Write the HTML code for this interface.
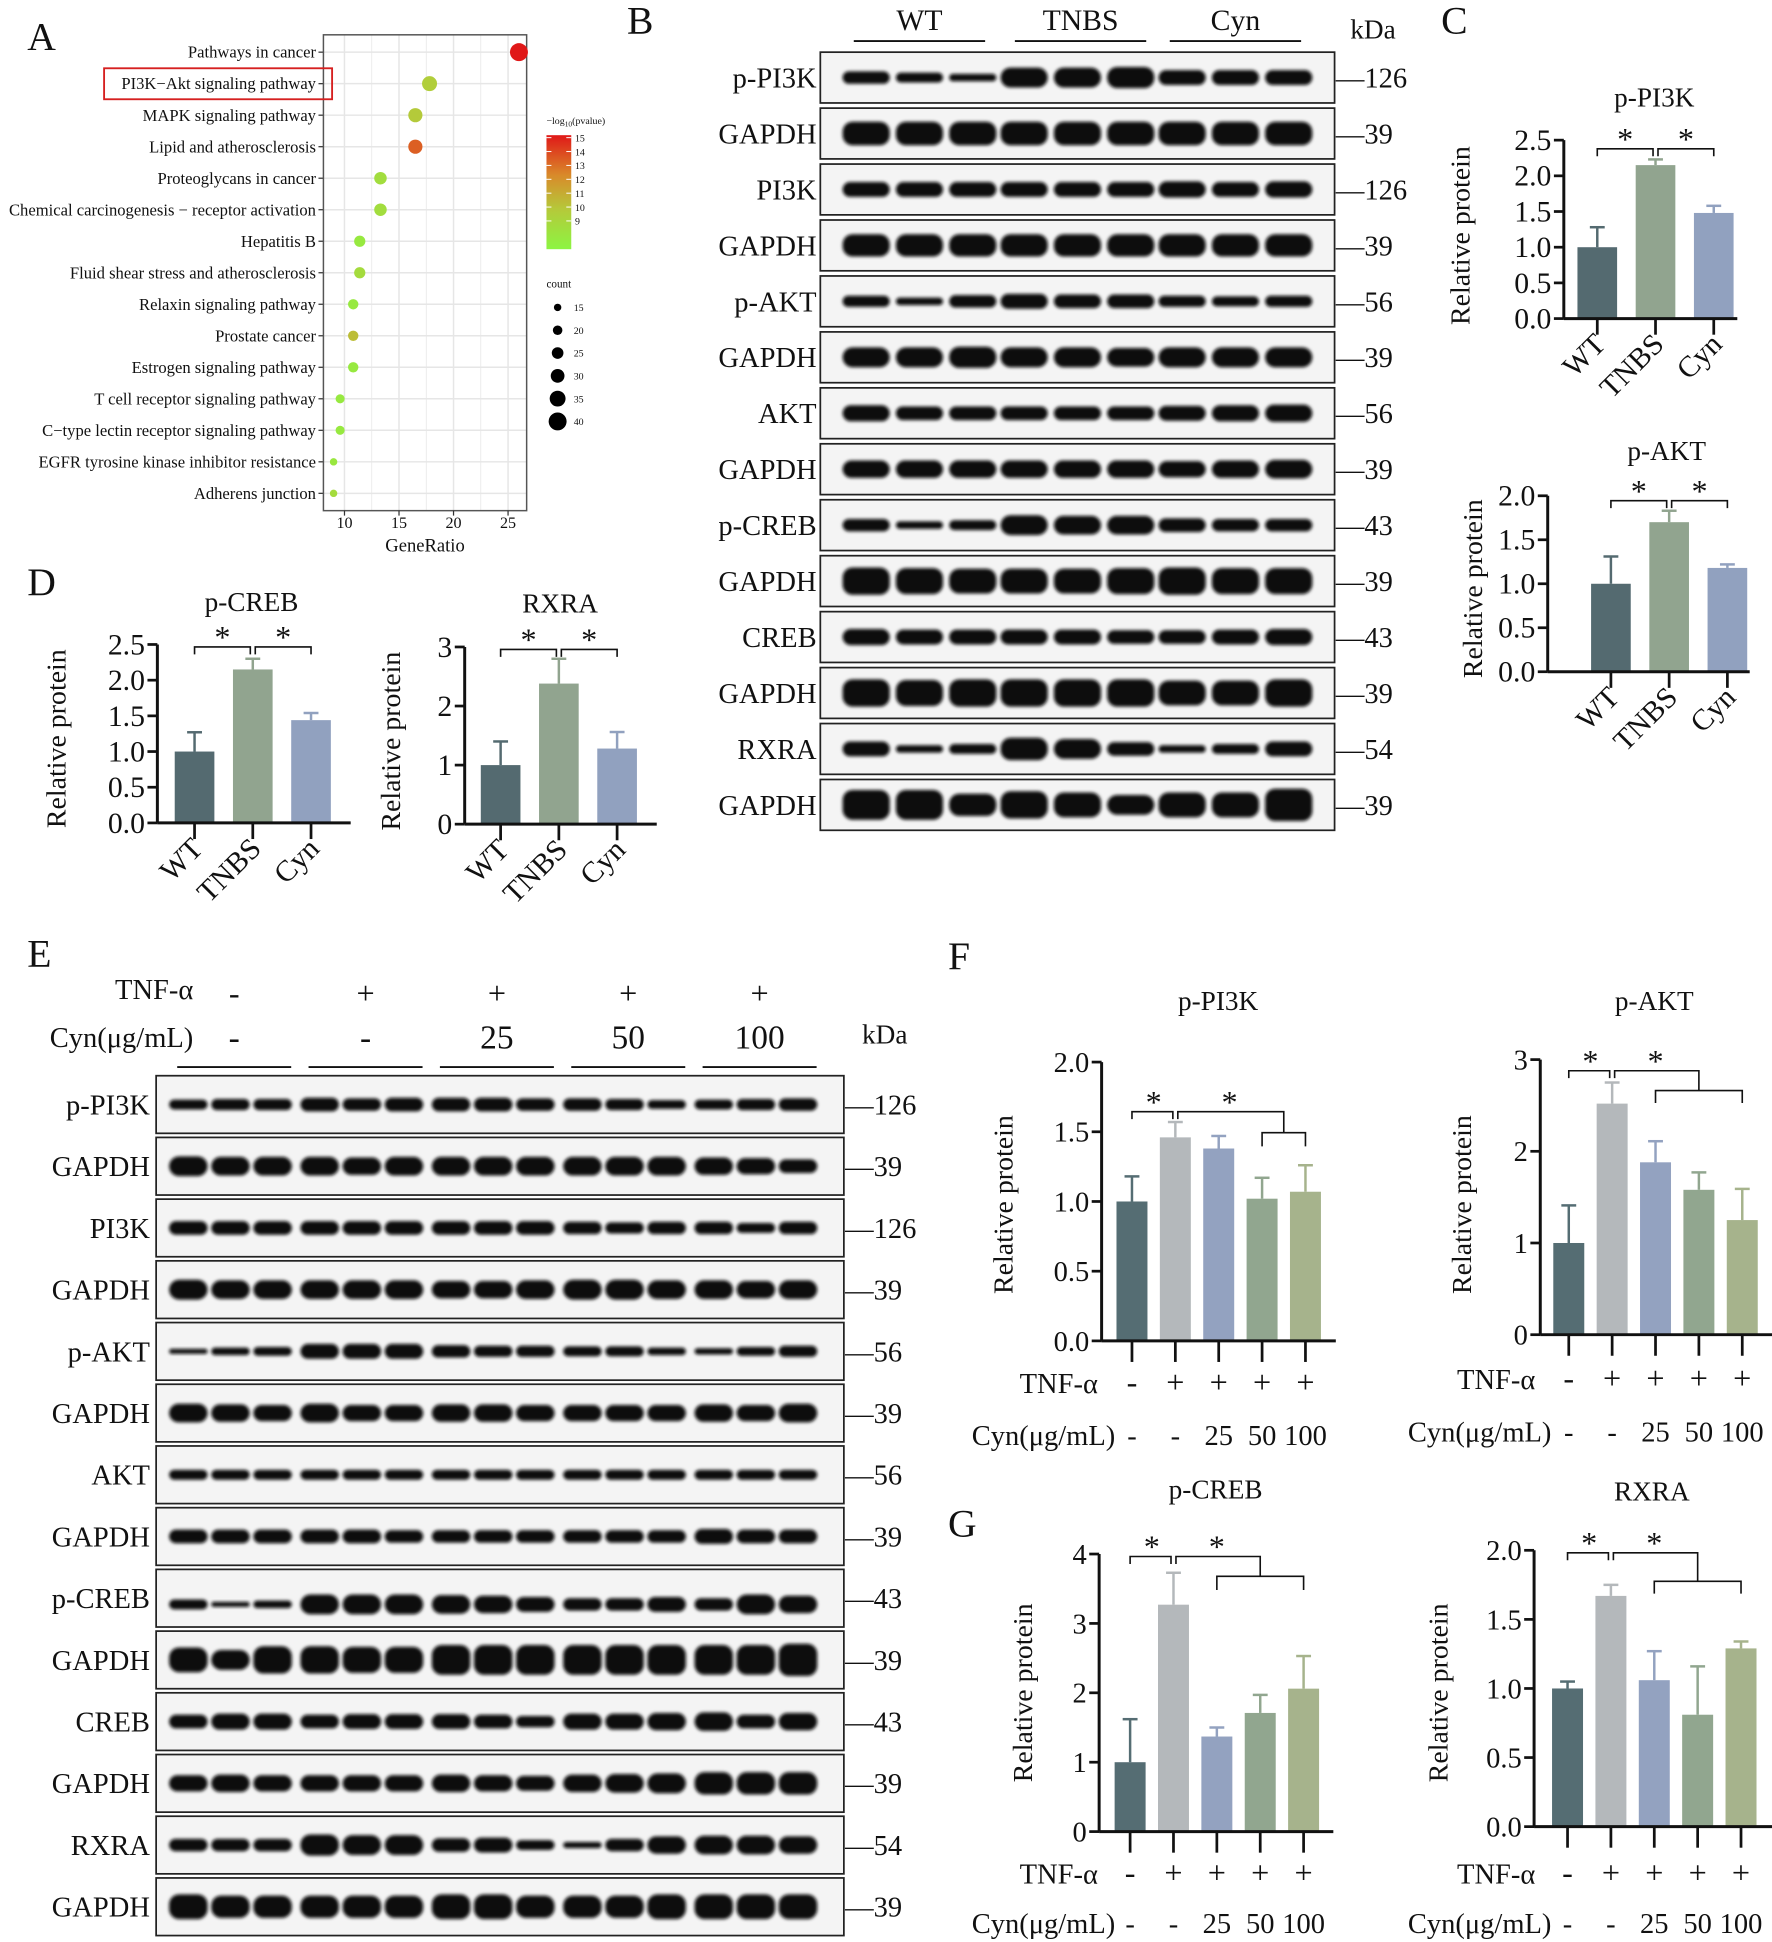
<!DOCTYPE html>
<html><head><meta charset="utf-8">
<style>
html,body{margin:0;padding:0;background:#fff;}
svg{display:block;font-family:"Liberation Serif","DejaVu Serif",serif;}
svg text{font-family:"Liberation Serif","DejaVu Serif",serif;}
</style></head>
<body>
<svg id="fig" xmlns="http://www.w3.org/2000/svg" width="1772" height="1942" viewBox="0 0 1430 1567">
<defs>
<linearGradient id="cbar" x1="0" y1="1" x2="0" y2="0">
<stop offset="0" stop-color="#8cf542"/><stop offset="0.35" stop-color="#b5c93a"/><stop offset="0.65" stop-color="#d98a2a"/><stop offset="1" stop-color="#e01818"/>
</linearGradient>
<filter id="blur" x="-20%" y="-50%" width="140%" height="200%"><feGaussianBlur stdDeviation="1.3"/></filter>
</defs>
</svg>
<script>
// ---------- Panel A data ----------
const aCategories = ["Pathways in cancer","PI3K\u2212Akt signaling pathway","MAPK signaling pathway","Lipid and atherosclerosis","Proteoglycans in cancer","Chemical carcinogenesis \u2212 receptor activation","Hepatitis B","Fluid shear stress and atherosclerosis","Relaxin signaling pathway","Prostate cancer","Estrogen signaling pathway","T cell receptor signaling pathway","C\u2212type lectin receptor signaling pathway","EGFR tyrosine kinase inhibitor resistance","Adherens junction"];
const aGeneRatio = [26,17.8,16.5,16.5,13.3,13.3,11.4,11.4,10.8,10.8,10.8,9.6,9.6,9,9];
const aLogP = [15,10.6,10.8,13.6,9.8,9.8,9.2,9.9,9.2,11.2,9.2,9.2,9.2,9.3,9.9];
const aCount = [40,33,31,31,27,27,24,24,22,22,22,19,19,15,15];
const aXTicks = [10,15,20,25];

// ---------- Bar chart data ----------
const grpWT = ["WT","TNBS","Cyn"];
const cPI3K = [1.0,2.15,1.48];   const cPI3Kerr = [0.28,0.08,0.10];
const cAKT = [1.0,1.70,1.18];    const cAKTerr = [0.31,0.13,0.04];
const dCREB = [1.0,2.15,1.44];   const dCREBerr = [0.27,0.15,0.10];
const dRXRA = [1.0,2.38,1.28];   const dRXRAerr = [0.40,0.42,0.28];
const tnfRow = ["-","+","+","+","+"];
const cynRow = ["-","-","25","50","100"];
const fPI3K = [1.0,1.46,1.38,1.02,1.07]; const fPI3Kerr = [0.18,0.11,0.09,0.15,0.19];
const fAKT = [1.0,2.52,1.88,1.58,1.25];  const fAKTerr = [0.41,0.23,0.23,0.19,0.34];
const gCREB = [1.0,3.27,1.37,1.71,2.06]; const gCREBerr = [0.62,0.46,0.13,0.26,0.47];
const gRXRA = [1.0,1.67,1.06,0.81,1.29]; const gRXRAerr = [0.05,0.08,0.21,0.35,0.05];

// ---------- Blot data (band thickness) ----------
const bRows = ["p-PI3K","GAPDH","PI3K","GAPDH","p-AKT","GAPDH","AKT","GAPDH","p-CREB","GAPDH","CREB","GAPDH","RXRA","GAPDH"];
const bKda = ["126","39","126","39","56","39","56","39","43","39","43","39","54","39"];
const bBands = [[10,8,6,16,16,17,12,12,12],[19,19,19,19,19,19,19,19,19],[12,12,12,12,12,12,13,12,13],[18,18,18,18,18,18,18,18,18],[9,6,10,12,11,11,9,8,9],[16,16,17,16,16,15,16,16,16],[13,11,11,11,11,11,12,13,14],[14,14,14,14,14,14,13,14,15],[10,6,8,16,15,15,11,10,10],[22,21,20,20,20,21,22,21,21],[13,12,12,12,12,11,11,12,13],[22,21,22,22,22,22,20,20,22],[12,6,8,18,16,11,6,8,12],[24,24,18,22,20,16,20,20,26]];
const eRows = ["p-PI3K","GAPDH","PI3K","GAPDH","p-AKT","GAPDH","AKT","GAPDH","p-CREB","GAPDH","CREB","GAPDH","RXRA","GAPDH"];
const eKda = ["126","39","126","39","56","39","56","39","43","39","43","39","54","39"];
const eBands = [[8,9,9,11,10,11,11,11,10,10,9,7,8,9,10],[16,15,15,15,14,15,15,15,15,15,15,15,14,13,11],[11,11,11,11,11,11,11,11,11,10,9,10,10,8,10],[16,15,15,15,15,15,14,14,15,16,16,15,15,14,15],[4,6,7,12,12,12,10,9,9,8,8,6,5,7,9],[15,14,13,15,13,13,14,14,13,13,13,13,14,13,15],[8,8,8,8,8,8,8,8,8,8,8,8,8,8,8],[11,11,11,11,11,10,10,10,10,10,10,10,12,11,11],[8,4,6,16,16,16,15,14,12,10,10,12,10,16,14],[20,16,22,22,21,21,24,24,24,24,24,24,24,24,26],[11,13,13,11,12,12,12,11,9,13,13,14,15,11,14],[13,14,13,13,13,13,14,13,12,14,15,16,18,18,18],[10,10,10,17,16,16,11,12,8,5,10,14,15,15,14],[20,18,18,18,18,18,20,20,18,18,18,20,20,20,20]];

const NS = "http://www.w3.org/2000/svg";
const svg = document.getElementById("fig");
function mk(tag, attrs, name, parent) {
  const e = document.createElementNS(NS, tag);
  for (const k in attrs) e.setAttribute(k, attrs[k]);
  
  
  (parent || svg).appendChild(e);
  return e;
}
function tx(x, y, s, size, anchor, name, parent, extra) {
  const a = {x: x, y: y, "font-size": size, "text-anchor": anchor || "start", fill: "#111", "font-family": "Liberation Serif, DejaVu Serif, serif"};
  if (extra) for (const k in extra) a[k] = extra[k];
  const t = mk("text", a, name, parent);
  t.textContent = s;
  return t;
}
function ln(x1,y1,x2,y2,w,name,parent,col){ return mk("line",{x1:x1,y1:y1,x2:x2,y2:y2,stroke:col||"#111","stroke-width":w},name,parent); }

// ---------- Panel letters ----------
[["A",22,40],["B",506,27],["C",1163,27],["D",22,480],["E",22,780],["F",765,782],["G",765,1240]].forEach(p=>{
  tx(p[1],p[2],p[0],32,"start","panel-label-"+p[0].toLowerCase());
});

// ---------- Panel A ----------
(function(){
  const g = mk("g",{},"panel-a-dotplot");
  const L=261,R=425,T=28,B=412;
  const xs = v => 278 + (v-10)*8.8;
  const ys = i => 42 + i*25.43;
  mk("rect",{x:L,y:T,width:R-L,height:B-T,fill:"#fff"},"plot-background",g);
  for (let v=10; v<=25; v+=2.5) ln(xs(v),T,xs(v),B,v%5===0?1.2:0.6,"x-gridline",g,"#e6e6e6");
  aCategories.forEach((c,i)=>{
    ln(L,ys(i),R,ys(i),1.2,"y-gridline",g,"#e6e6e6");
    ln(L-4,ys(i),L,ys(i),1,"y-tick",g,"#333");
    tx(L-6,ys(i)+4.5,c,13.4,"end","pathway-label",g);
  });
  mk("rect",{x:L,y:T,width:R-L,height:B-T,fill:"none",stroke:"#555","stroke-width":1.2},"plot-frame",g);
  mk("rect",{x:84,y:55,width:184,height:25,fill:"none",stroke:"#d62020","stroke-width":1.5},"highlight-box",g);
  function colorFor(v){
    const t=Math.max(0,Math.min(1,(v-8.6)/(15-8.6)));
    const stops=[[0,[140,245,66]],[0.35,[181,201,58]],[0.65,[217,138,42]],[1,[224,24,24]]];
    for(let k=1;k<stops.length;k++){ if(t<=stops[k][0]){const a=stops[k-1],b=stops[k];const f=(t-a[0])/(b[0]-a[0]);return "rgb("+a[1].map((c,j)=>Math.round(c+(b[1][j]-c)*f)).join(",")+")";}}
    return "rgb(224,24,24)";
  }
  const rs = n => 3 + (n-15)*0.17;
  aGeneRatio.forEach((v,i)=>{
    mk("circle",{cx:xs(v),cy:ys(i),r:rs(aCount[i]),fill:colorFor(aLogP[i])},"dot-"+i,g);
  });
  aXTicks.forEach(v=>{ ln(xs(v),B,xs(v),B+4,1,"x-tick",g,"#333"); tx(xs(v),B+14,String(v),13,"middle","x-tick-label",g); });
  tx(343,445,"GeneRatio",15,"middle","x-axis-title",g);
  // legend
  tx(441,100,"\u2212log",8,"start","color-legend-title",g).innerHTML='\u2212log<tspan font-size="6" dy="2">10</tspan><tspan dy="-2">(pvalue)</tspan>';
  mk("rect",{x:441,y:109,width:20,height:92,fill:"url(#cbar)"},"color-bar",g);
  [15,14,13,12,11,10,9].forEach((v,k)=>{ const y=111+k*11.2; ln(441,y,445,y,0.8,"colorbar-tick",g,"#fff"); ln(457,y,461,y,0.8,"colorbar-tick",g,"#fff"); tx(464,y+3,String(v),8,"start","colorbar-label",g); });
  tx(441,232,"count",9,"start","size-legend-title",g);
  [15,20,25,30,35,40].forEach((v,k)=>{ const y=248+k*18.4; mk("circle",{cx:450,cy:y,r:rs(v),fill:"#000"},"size-legend-dot",g); tx(463,y+3,String(v),8,"start","size-legend-label",g); });
})();

// ---------- Blots ----------
function drawBlot(cfg){
  const g = mk("g",{},cfg.name);
  cfg.rows.forEach((r,i)=>{
    const top = cfg.top + i*cfg.pitch, cy = top + cfg.h/2;
    mk("rect",{x:cfg.x0,y:top,width:cfg.x1-cfg.x0,height:cfg.h,fill:"#f4f4f4",stroke:"#222","stroke-width":1.4},"blot-strip",g);
    tx(cfg.labX,cy+8,r,cfg.fs,"end","blot-row-label",g);
    tx(cfg.kdaX,cy+8,"\u2014"+cfg.kda[i],cfg.fs,"start","kda-marker",g);
    cfg.bands[i].forEach((h,j)=>{
      const cx = cfg.lane(j);
      const off = (cfg.low && cfg.low.indexOf(i)>=0) ? 5 : 0;
      mk("rect",{x:cx-cfg.bw/2,y:cy-h/2+off,width:cfg.bw,height:h,rx:Math.min(h/2,8),fill:"#0c0c0c",filter:"url(#blur)"},"band",g);
    });
  });
  return g;
}
// Panel B
drawBlot({name:"panel-b-blot",rows:bRows,kda:bKda,bands:bBands,x0:662,x1:1077,top:42,pitch:45.15,h:41,labX:659,kdaX:1078,fs:23,bw:38,lane:j=>742+127.5*Math.floor(j/3)+43*(j%3-1)});
[["WT",742],["TNBS",872],["Cyn",997]].forEach(p=>{ tx(p[1],24,p[0],24,"middle","group-label",null); ln(p[1]-53,33,p[1]+53,33,1.5,"group-line"); });
tx(1108,31,"kDa",22,"middle","kda-header");
// Panel E
drawBlot({name:"panel-e-blot",rows:eRows,kda:eKda,bands:eBands,x0:126,x1:681,top:868,pitch:49.8,h:46.5,labX:121,kdaX:682,fs:23,bw:31,low:[8],lane:j=>186+106*Math.floor(j/3)+34*(j%3-1)});
tx(156,806,"TNF-\u03b1",23,"end","tnf-header-label");
tx(156,845,"Cyn(\u03bcg/mL)",23,"end","cyn-header-label");
tnfRow.forEach((s,k)=>{ const x=189+106*k; tx(x,810,s,26,"middle","tnf-header-symbol"); tx(x,846,cynRow[k],27,"middle","cyn-header-value"); ln(x-46,861,x+46,861,1.5,"group-line"); });
tx(714,842,"kDa",22,"middle","kda-header-e");

// ---------- Bar charts ----------
function barChart(c){
  const g = mk("g",{},c.name);
  const ys = v => c.y0 - (v/c.max)*(c.y0-c.yTop);
  const xs = i => c.ax + c.off + i*c.step;
  tx(c.titleX,c.titleY,c.title,22,"middle","chart-title",g);
  c.vals.forEach((v,i)=>{
    const col=c.colors[i];
    mk("rect",{x:xs(i)-c.bw/2,y:ys(v),width:c.bw,height:c.y0-ys(v),fill:col},"bar-"+c.cats[i],g);
    const e=v+c.errs[i];
    ln(xs(i),ys(v),xs(i),ys(e),2,"error-bar",g,col);
    ln(xs(i)-6,ys(e),xs(i)+6,ys(e),2,"error-cap",g,col);
    ln(xs(i),c.y0,xs(i),c.y0+c.tickLen,2.2,"x-tick",g);
  });
  ln(c.ax,c.yTop,c.ax,c.y0,2.4,"y-axis",g);
  ln(c.ax,c.y0,c.axEnd,c.y0,2.4,"x-axis",g);
  c.ticks.forEach((v,k)=>{ ln(c.ax-8,ys(v),c.ax,ys(v),2.2,"y-tick",g); tx(c.ax-10,ys(v)+8,c.tickLabels[k],c.rot?24:23,"end","y-tick-label",g); });
  tx(0,0,"Relative protein",22.5,"middle","y-axis-title",g,{transform:"translate("+c.ylX+","+c.ylY+") rotate(-90)"});
  if (c.rot){
    c.cats.forEach((s,i)=>{ tx(0,0,s,24,"end","x-tick-label",g,{transform:"translate("+(xs(i)+8)+","+(c.y0+22)+") rotate(-45)"}); });
    const by=c.brY;
    [[0,1],[1,2]].forEach(p=>{
      const xa=xs(p[0])+(p[0]?2:0), xb=xs(p[1])-(p[1]===1?2:0);
      mk("polyline",{points:xa+","+(by+6)+" "+xa+","+by+" "+xb+","+by+" "+xb+","+(by+6),fill:"none",stroke:"#111","stroke-width":1.3},"significance-bracket",g);
      tx((xa+xb)/2,by+1,"*",26,"middle","significance-star",g);
    });
  } else {
    tx(c.rowLabX,c.tnfY,"TNF-\u03b1",23,"end","tnf-row-label",g);
    tx(c.cynLabX,c.cynY,"Cyn(\u03bcg/mL)",23,"end","cyn-row-label",g);
    tnfRow.forEach((s,i)=>{ tx(xs(i),c.tnfY,s,26,"middle","tnf-symbol",g); tx(xs(i),c.cynY,cynRow[i],23,"middle","cyn-value",g); });
    const b1=c.br1, b2=c.br2, b3=c.br3;
    mk("polyline",{points:xs(0)+","+(b1+6)+" "+xs(0)+","+b1+" "+(xs(1)-2)+","+b1+" "+(xs(1)-2)+","+(b1+6),fill:"none",stroke:"#111","stroke-width":1.3},"significance-bracket",g);
    tx((xs(0)+xs(1))/2,b1+1,"*",26,"middle","significance-star",g);
    const ex = (xs(c.subA)+xs(4))/2;
    mk("polyline",{points:(xs(1)+2)+","+(b1+6)+" "+(xs(1)+2)+","+b1+" "+ex+","+b1+" "+ex+","+b2,fill:"none",stroke:"#111","stroke-width":1.3},"significance-bracket",g);
    tx((xs(1)+ex)/2,b1+1,"*",26,"middle","significance-star",g);
    mk("polyline",{points:xs(c.subA)+","+b3+" "+xs(c.subA)+","+b2+" "+xs(4)+","+b2+" "+xs(4)+","+b3,fill:"none",stroke:"#111","stroke-width":1.3},"significance-bracket",g);
  }
}
const col3=["#546a70","#91a48f","#91a1bf"];
const col5=["#556d73","#b4b8bb","#93a2c0","#91a68f","#a6b38c"];
barChart({name:"chart-c-ppi3k",title:"p-PI3K",titleX:1335,titleY:86,cats:grpWT,vals:cPI3K,errs:cPI3Kerr,colors:col3,ax:1262,off:27,step:47,bw:32,axEnd:1402,y0:257,yTop:113,max:2.5,ticks:[0,0.5,1,1.5,2,2.5],tickLabels:["0.0","0.5","1.0","1.5","2.0","2.5"],ylX:1186,ylY:190,rot:true,brY:120,tickLen:13});
barChart({name:"chart-c-pakt",title:"p-AKT",titleX:1345,titleY:371,cats:grpWT,vals:cAKT,errs:cAKTerr,colors:col3,ax:1249,off:51,step:47,bw:32,axEnd:1412,y0:542,yTop:400,max:2.0,ticks:[0,0.5,1,1.5,2],tickLabels:["0.0","0.5","1.0","1.5","2.0"],ylX:1196,ylY:475,rot:true,brY:404,tickLen:13});
barChart({name:"chart-d-pcreb",title:"p-CREB",titleX:203,titleY:493,cats:grpWT,vals:dCREB,errs:dCREBerr,colors:col3,ax:127,off:30,step:47,bw:32,axEnd:283,y0:664,yTop:520,max:2.5,ticks:[0,0.5,1,1.5,2,2.5],tickLabels:["0.0","0.5","1.0","1.5","2.0","2.5"],ylX:53,ylY:596,rot:true,brY:522,tickLen:13});
barChart({name:"chart-d-rxra",title:"RXRA",titleX:452,titleY:494,cats:grpWT,vals:dRXRA,errs:dRXRAerr,colors:col3,ax:375,off:29,step:47,bw:32,axEnd:530,y0:665,yTop:522,max:3,ticks:[0,1,2,3],tickLabels:["0","1","2","3"],ylX:323,ylY:598,rot:true,brY:524,tickLen:13});
const cats5=["ctrl","tnf","cyn25","cyn50","cyn100"];
barChart({name:"chart-f-ppi3k",title:"p-PI3K",titleX:983,titleY:815,cats:cats5,vals:fPI3K,errs:fPI3Kerr,colors:col5,ax:889,off:24.5,step:35,bw:25,axEnd:1078,y0:1082,yTop:857,max:2,ticks:[0,0.5,1,1.5,2],tickLabels:["0.0","0.5","1.0","1.5","2.0"],ylX:817,ylY:972,rot:false,br1:897,br2:914,br3:925,subA:3,tnfY:1124,cynY:1166,rowLabX:886,cynLabX:900,tickLen:17});
barChart({name:"chart-f-pakt",title:"p-AKT",titleX:1335,titleY:815,cats:cats5,vals:fAKT,errs:fAKTerr,colors:col5,ax:1243,off:23,step:35,bw:25,axEnd:1430,y0:1077,yTop:855,max:3,ticks:[0,1,2,3],tickLabels:["0","1","2","3"],ylX:1187,ylY:972,rot:false,br1:864,br2:880,br3:890,subA:2,tnfY:1121,cynY:1163,rowLabX:1239,cynLabX:1252,tickLen:17});
barChart({name:"chart-g-pcreb",title:"p-CREB",titleX:981,titleY:1209,cats:cats5,vals:gCREB,errs:gCREBerr,colors:col5,ax:887,off:25,step:35,bw:25,axEnd:1076,y0:1478,yTop:1254,max:4,ticks:[0,1,2,3,4],tickLabels:["0","1","2","3","4"],ylX:833,ylY:1366,rot:false,br1:1256,br2:1272,br3:1283,subA:2,tnfY:1520,cynY:1560,rowLabX:886,cynLabX:900,tickLen:17});
barChart({name:"chart-g-rxra",title:"RXRA",titleX:1333,titleY:1211,cats:cats5,vals:gRXRA,errs:gRXRAerr,colors:col5,ax:1238,off:27,step:35,bw:25,axEnd:1430,y0:1474,yTop:1251,max:2,ticks:[0,0.5,1,1.5,2],tickLabels:["0.0","0.5","1.0","1.5","2.0"],ylX:1168,ylY:1366,rot:false,br1:1253,br2:1276,br3:1286,subA:2,tnfY:1520,cynY:1560,rowLabX:1239,cynLabX:1252,tickLen:17});
</script>
</body></html>
